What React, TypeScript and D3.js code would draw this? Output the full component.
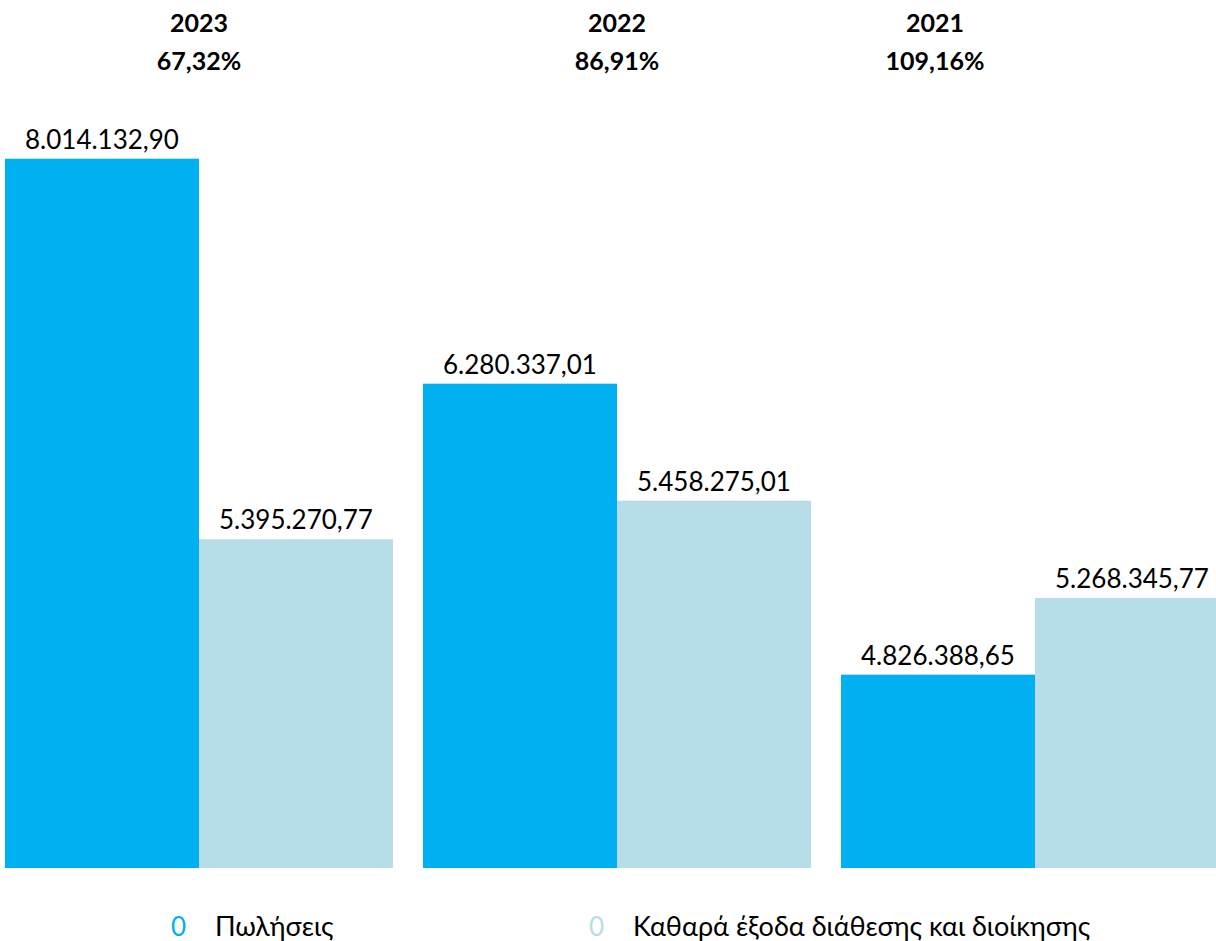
import React, { useEffect, useRef } from 'react';
import * as d3 from 'd3';

// Data
const years = ['2023', '2022', '2021'];
const ratios = ['67,32%', '86,91%', '109,16%'];
const seriesNames = ['Πωλήσεις', 'Καθαρά έξοδα διάθεσης και διοίκησης'];
const sales = [8014132.9, 6280337.01, 4826388.65];
const expenses = [5395270.77, 5458275.01, 5268345.77];
// each year was its own chart with its own auto value axis (estimated bounds)
const axisMin = [3133500, 2877000, 3712000];
const axisMax = [8418000, 8274000, 8138500];

const colors = ['#00B0F0', '#B7DDE8'];
const FONT = 'Lato, "Open Sans", sans-serif';

const fmt = (v: number) => {
  const [int, dec] = v.toFixed(2).split('.');
  return int.replace(/\B(?=(\d{3})+(?!\d))/g, '.') + ',' + dec;
};

const App: React.FC = () => {
  const svgRef = useRef<SVGSVGElement>(null);

  useEffect(() => {
    if (!svgRef.current) return;
    const width = 1216;
    const height = 941;
    const baseline = 868;
    const plotTop = 100;

    const svg = d3.select(svgRef.current).attr('width', width).attr('height', height);
    svg.selectAll('*').remove();

    const x0 = d3.scaleBand<string>()
      .domain(years)
      .range([5, 1229])
      .paddingInner(0.0718)
      .paddingOuter(0);

    const x1 = d3.scaleBand<number>()
      .domain([0, 1])
      .range([0, x0.bandwidth()]);

    // title shift: the last chart's title sat left of its bars
    const titleShift = [0, 0, -100];

    years.forEach((year, i) => {
      const y = d3.scaleLinear()
        .domain([axisMin[i], axisMax[i]])
        .range([baseline, plotTop]);

      const g = svg.append('g').attr('transform', `translate(${x0(year)},0)`);
      const vals = [sales[i], expenses[i]];

      g.selectAll('rect')
        .data(vals)
        .enter()
        .append('rect')
        .attr('x', (_, j) => x1(j) as number)
        .attr('width', x1.bandwidth())
        .attr('y', d => y(d))
        .attr('height', d => baseline - y(d))
        .attr('fill', (_, j) => colors[j]);

      g.selectAll('text.val')
        .data(vals)
        .enter()
        .append('text')
        .attr('class', 'val')
        .attr('x', (_, j) => (x1(j) as number) + x1.bandwidth() / 2)
        .attr('y', d => y(d) - 10)
        .attr('text-anchor', 'middle')
        .style('font-family', FONT)
        .style('font-size', '26px')
        .style('fill', '#000')
        .text(d => fmt(d));

      const cx = x0.bandwidth() / 2 + titleShift[i];
      g.append('text')
        .attr('x', cx)
        .attr('y', 32)
        .attr('text-anchor', 'middle')
        .style('font-family', FONT)
        .style('font-size', '25px')
        .style('font-weight', 'bold')
        .text(year);
      g.append('text')
        .attr('x', cx)
        .attr('y', 70)
        .attr('text-anchor', 'middle')
        .style('font-family', FONT)
        .style('font-size', '25px')
        .style('font-weight', 'bold')
        .text(ratios[i]);
    });

    // legend
    const legendX = [171, 589];
    seriesNames.forEach((name, j) => {
      const lg = svg.append('g').attr('transform', `translate(${legendX[j]},936)`);
      lg.append('text')
        .attr('x', 0)
        .style('font-family', FONT)
        .style('font-size', '26px')
        .style('fill', colors[j])
        .text('0');
      lg.append('text')
        .attr('x', 44)
        .style('font-family', FONT)
        .style('font-size', '27px')
        .style('fill', '#000')
        .text(name);
    });
  }, []);

  return (
    <div style={{ position: 'absolute', left: 0, top: 0, width: 1216, height: 941, overflow: 'hidden', background: '#fff' }}>
      <svg ref={svgRef}></svg>
    </div>
  );
};

export default App;
